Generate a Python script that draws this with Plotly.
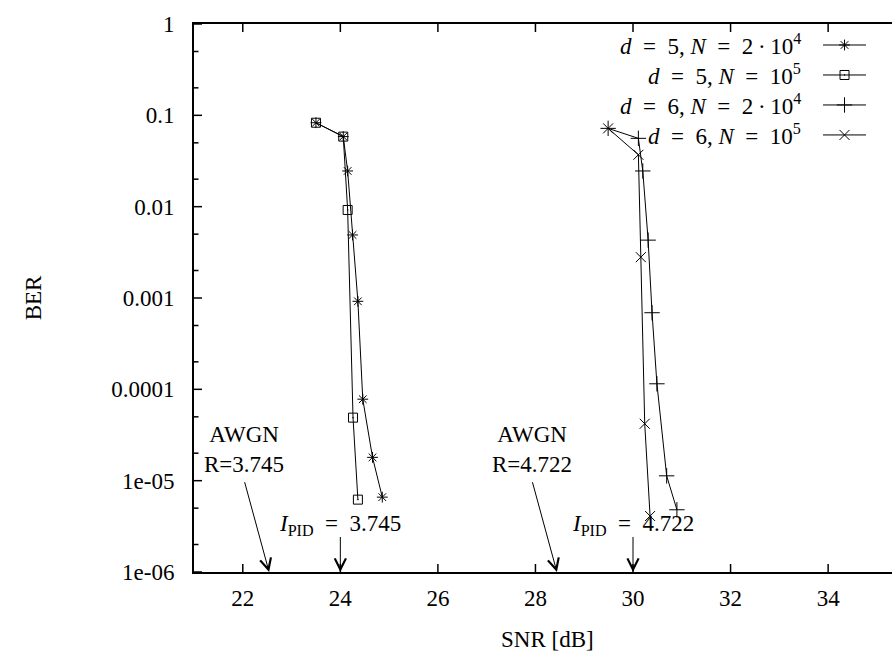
import math
import plotly.graph_objects as go

# ---- data ----
snr_d5_n2e4 = [23.50, 24.06, 24.15, 24.25, 24.36, 24.46, 24.66, 24.86]
ber_d5_n2e4 = [0.083, 0.0585, 0.0246, 0.0049, 0.00092, 7.8e-5, 1.8e-5, 6.6e-6]

snr_d5_n1e5 = [23.50, 24.06, 24.15, 24.26, 24.36]
ber_d5_n1e5 = [0.083, 0.0585, 0.0092, 4.9e-5, 6.2e-6]

snr_d6_n2e4 = [29.49, 30.11, 30.20, 30.31, 30.39, 30.49, 30.69, 30.90]
ber_d6_n2e4 = [0.072, 0.056, 0.0246, 0.0043, 0.00069, 0.000115, 1.13e-5, 4.8e-6]

snr_d6_n1e5 = [29.49, 30.11, 30.16, 30.24, 30.35]
ber_d6_n1e5 = [0.072, 0.037, 0.0028, 4.2e-5, 4.1e-6]

series_names = [
    "<i>d</i>&#8194;=&#8194;5, <i>N</i>&#8194;=&#8194;2&#8201;·&#8201;10<sup>4</sup>",
    "<i>d</i>&#8194;=&#8194;5, <i>N</i>&#8194;=&#8194;10<sup>5</sup>",
    "<i>d</i>&#8194;=&#8194;6, <i>N</i>&#8194;=&#8194;2&#8201;·&#8201;10<sup>4</sup>",
    "<i>d</i>&#8194;=&#8194;6, <i>N</i>&#8194;=&#8194;10<sup>5</sup>",
]
series_symbols = ["asterisk-open", "square-open-dot", "cross-thin-open", "x-thin-open"]
series_msize = [9, 9, 11, 10]

ytick_vals = [1, 0.1, 0.01, 0.001, 0.0001, 1e-5, 1e-6]
ytick_text = ["1", "0.1", "0.01", "0.001", "0.0001", "1e-05", "1e-06"]
ytick_minor = [2e-6, 5e-6, 2e-5, 5e-5, 2e-4, 5e-4, 2e-3, 5e-3, 0.02, 0.05, 0.2, 0.5]
xtick_vals = [22, 24, 26, 28, 30, 32, 34]

# annotation values: (label, SNR)
awgn_marks = [("AWGN<br>R=3.745", 22.54), ("AWGN<br>R=4.722", 28.44)]
ipid_marks = [("<i>I</i><sub>PID</sub>&#8194;=&#8194;3.745", 24.0),
              ("<i>I</i><sub>PID</sub>&#8194;=&#8194;4.722", 30.0)]

FONT = "Liberation Serif"
FS = 23

W, H = 892, 658
L, T = 193.7, 24.0
B = 572.3
R = W
pw, ph = R - L, B - T
PX_PER_DB = 48.8
x_lo = 21.0
x_hi = x_lo + pw / PX_PER_DB
Y_LO, Y_HI = -6, 0

xs = [snr_d5_n2e4, snr_d5_n1e5, snr_d6_n2e4, snr_d6_n1e5]
ys = [ber_d5_n2e4, ber_d5_n1e5, ber_d6_n2e4, ber_d6_n1e5]

fig = go.Figure()
for x, y, sym, ms in zip(xs, ys, series_symbols, series_msize):
    fig.add_trace(go.Scatter(
        x=x, y=y, mode="lines+markers", showlegend=False, cliponaxis=False,
        line=dict(color="black", width=1),
        marker=dict(symbol=sym, size=ms, color="black", line=dict(color="black", width=1)),
    ))


def px2paper_x(px):
    return (px - L) / pw


def px2paper_y(py):
    return (B - py) / ph


def px2data_x(px):
    return x_lo + (px - L) / PX_PER_DB


def px2data_y(py):
    return 10 ** (Y_HI - (Y_HI - Y_LO) * (py - T) / ph)


# manual legend (text left of the sample, as in the reference)
row_y = [45, 75, 105, 135]
for i, (name, sym, ms) in enumerate(zip(series_names, series_symbols, series_msize)):
    yd = px2data_y(row_y[i])
    fig.add_trace(go.Scatter(x=[px2data_x(823), px2data_x(866)], y=[yd, yd], mode="lines",
                             showlegend=False, line=dict(color="black", width=1)))
    fig.add_trace(go.Scatter(x=[px2data_x(844.5)], y=[yd], mode="markers",
                             showlegend=False,
                             marker=dict(symbol=sym, size=ms, color="black",
                                         line=dict(color="black", width=1))))
    fig.add_annotation(xref="paper", yref="paper", x=px2paper_x(803), y=px2paper_y(row_y[i]),
                       text=name, showarrow=False, xanchor="right", yanchor="middle",
                       font=dict(family=FONT, size=FS, color="black"))

# AWGN arrows + text
for label, snr in awgn_marks:
    fig.add_annotation(x=snr, y=-6, ax=snr - 0.51, ay=-5.0, xref="x", yref="y",
                       axref="x", ayref="y", text="", showarrow=True,
                       arrowhead=5, arrowsize=2.2, arrowwidth=1, arrowcolor="black",
                       standoff=0, startstandoff=0)
    fig.add_annotation(x=snr - 0.51, y=-4.66, xref="x", yref="y", text=label,
                       showarrow=False, xanchor="center", yanchor="middle",
                       font=dict(family=FONT, size=FS, color="black"))

for label, snr in ipid_marks:
    fig.add_annotation(x=snr, y=-6, ax=snr, ay=-5.6, xref="x", yref="y",
                       axref="x", ayref="y", text="", showarrow=True,
                       arrowhead=5, arrowsize=2.2, arrowwidth=1, arrowcolor="black",
                       standoff=0, startstandoff=0)
    fig.add_annotation(x=snr, y=-5.49, xref="x", yref="y", text=label,
                       showarrow=False, xanchor="center", yanchor="middle",
                       font=dict(family=FONT, size=FS, color="black"))

# axis titles
fig.add_annotation(xref="paper", yref="paper", x=px2paper_x(33), y=0.5, text="BER",
                   textangle=-90, showarrow=False, xanchor="center", yanchor="middle",
                   font=dict(family=FONT, size=FS, color="black"))
fig.add_annotation(xref="paper", yref="paper", x=px2paper_x(547), y=px2paper_y(640),
                   text="SNR [dB]", showarrow=False, xanchor="center", yanchor="middle",
                   font=dict(family=FONT, size=FS, color="black"))

# tick marks drawn inward (gnuplot style), placed from the tick value arrays
MAJ, MIN = 8.0, 4.5
tick_line = dict(color="black", width=1.5)
for v in xtick_vals:
    fig.add_shape(type="line", xref="x", yref="paper", x0=v, x1=v, y0=0, y1=MAJ / ph,
                  line=tick_line, layer="above")
    fig.add_shape(type="line", xref="x", yref="paper", x0=v, x1=v, y0=1, y1=1 - MAJ / ph,
                  line=tick_line, layer="above")
for vals, ln in ((ytick_vals, MAJ), (ytick_minor, MIN)):
    for v in vals:
        yp = (math.log10(v) - Y_LO) / (Y_HI - Y_LO)
        fig.add_shape(type="line", xref="paper", yref="paper", x0=0, x1=ln / pw,
                      y0=yp, y1=yp, line=tick_line, layer="above")

fig.update_layout(
    width=W, height=H,
    margin=dict(l=L, r=0, t=T, b=H - B, pad=0),
    paper_bgcolor="white", plot_bgcolor="white",
    font=dict(family=FONT, size=FS, color="black"),
    showlegend=False,
    xaxis=dict(range=[x_lo, x_hi], tickmode="array", tickvals=xtick_vals,
               ticks="", showline=True, linewidth=2, linecolor="black", mirror=True,
               showgrid=False, zeroline=False, ticklabelstandoff=4,
               tickfont=dict(family=FONT, size=FS, color="black")),
    yaxis=dict(type="log", range=[Y_LO, Y_HI], tickmode="array", tickvals=ytick_vals,
               ticktext=ytick_text, ticks="", showline=True, linewidth=2,
               linecolor="black", mirror=False, showgrid=False, zeroline=False,
               ticklabelstandoff=13,
               tickfont=dict(family=FONT, size=FS, color="black")),
)

fig.write_html("out.html")
